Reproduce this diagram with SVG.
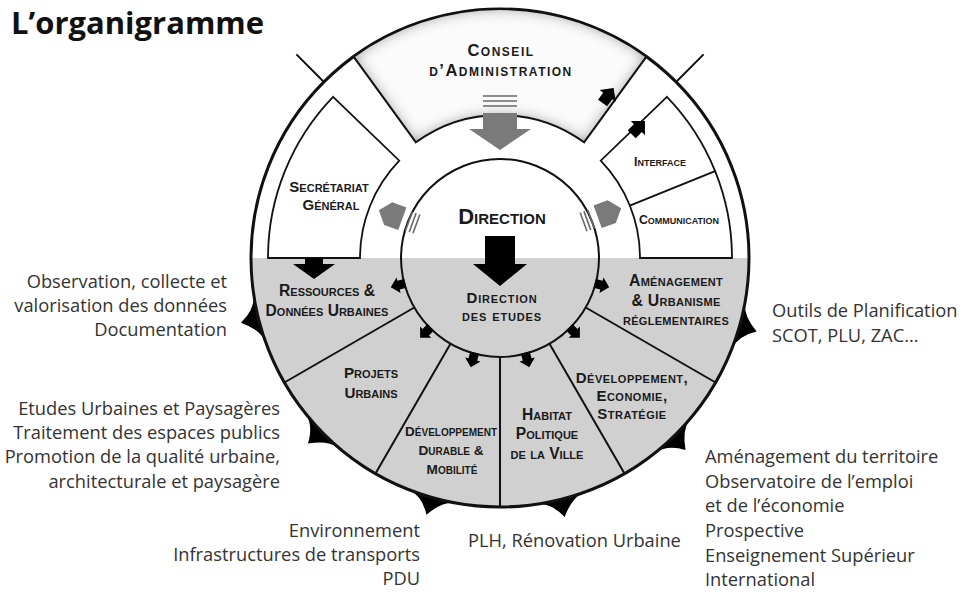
<svg xmlns="http://www.w3.org/2000/svg" width="963" height="592" viewBox="0 0 963 592">
<defs>
<style>
.title{font-family:"Open Sans","Liberation Sans",sans-serif;font-weight:700;font-size:31px;fill:#111}
.note{font-family:"Open Sans","Liberation Sans",sans-serif;font-size:18.3px;fill:#333}
.end{text-anchor:end}
.sc{font-family:"Liberation Sans",Arial,sans-serif;font-weight:700;font-variant:small-caps;fill:#1a1a1a;text-anchor:middle}
.div{fill:none;stroke:#111;stroke-width:2}
.panel{fill:#fff;stroke:#111;stroke-width:1.8}
.grey{fill:#7a7a7a}
.bars{stroke:#6a6a6a;stroke-width:1.6;fill:none}
</style>
<filter id="glow" x="-10%" y="-10%" width="120%" height="120%">
  <feFlood flood-color="#8c8c8c" result="f"/>
  <feComposite in="f" in2="SourceAlpha" operator="out" result="o"/>
  <feGaussianBlur in="o" stdDeviation="7" result="b"/>
  <feComposite in="b" in2="SourceAlpha" operator="in" result="i"/>
  <feMerge><feMergeNode in="SourceGraphic"/><feMergeNode in="i"/></feMerge>
</filter>
<!-- small block arrow, pointing +x -->
<path id="tip" d="M-6,-4.5 H1 V-8 L9,0 L1,8 V4.5 H-6 Z" fill="#000"/>
<!-- black tab on the outer rim, drawn at angle 0 -->
<path id="fin" d="M747.4,285.5 Q750.7,271.1 767,262.6 Q750.9,251.4 748.4,239 Z" fill="#000"/>
<!-- grey pentagon arrow with motion bars, pointing +x -->
<g id="pent">
  <polygon points="-11,-12 4,-12 14,0 4,12 -11,12" class="grey"/>
  <path d="M-18,-10 V10 M-22,-10 V10 M-26,-10 V10" class="bars"/>
</g>
</defs>

<rect width="963" height="592" fill="#fff"/>
<text class="title" x="11" y="34">L’organigramme</text>

<!-- rim tabs -->
<g id="tabs">
  <use href="#fin" transform="rotate(165 500 258)"/>
  <use href="#fin" transform="rotate(135 500 258)"/>
  <use href="#fin" transform="rotate(105 500 258)"/>
  <use href="#fin" transform="rotate(75 500 258)"/>
  <use href="#fin" transform="rotate(45 500 258)"/>
  <use href="#fin" transform="rotate(15 500 258)"/>
</g>

<!-- wheel -->
<g id="wheel">
  <path d="M251,258 A249,249 0 0 0 749,258 Z" fill="#d0d0d0"/>
  <circle cx="500" cy="258" r="249" fill="none" stroke="#111" stroke-width="3"/>
  <path d="M323.2,81.2 L296.4,54.4 M676.8,81.2 L703.6,54.4" class="div"/>
</g>

<g id="conseil">
  <path d="M353.6,56.6 A249,249 0 0 1 646.4,56.6 L584.1,142.3 A143,143 0 0 0 415.9,142.3 Z" fill="#fbfbfb" filter="url(#glow)"/>
  <path d="M353.6,56.6 A249,249 0 0 1 646.4,56.6 L584.1,142.3 A143,143 0 0 0 415.9,142.3 Z" class="div"/>
  <text class="sc" font-size="16.5" letter-spacing="1.5"><tspan x="501" y="56">Conseil</tspan><tspan x="501" y="76">d’Administration</tspan></text>
</g>

<g id="secretariat">
  <path d="M333.1,96.8 L399.3,160.7 A140,140 0 0 0 360,258 L268,258 A232,232 0 0 1 333.1,96.8 Z" class="panel"/>
  <text class="sc" font-size="15"><tspan x="329" y="192">Secrétariat</tspan><tspan x="331" y="210">Général</tspan></text>
</g>

<g id="interface">
  <path d="M666.9,96.8 L600.7,160.7 A140,140 0 0 1 640,258 L732,258 A232,232 0 0 0 666.9,96.8 Z" class="panel"/>
  <path d="M629.8,205.6 L715.1,171.1" class="div" stroke-width="1.6"/>
  <text class="sc" x="660" y="166" font-size="12.3">Interface</text>
</g>
<g id="communication">
  <text class="sc" x="679" y="224" font-size="12.3">Communication</text>
</g>

<g id="direction">
  <circle cx="500" cy="258" r="99" class="div"/>
  <text class="sc" x="502" y="224" font-size="22">Direction</text>
</g>

<!-- sector dividers -->
<g id="sectors">
  <path d="M414.3,307.5 L284.4,382.5 M450.5,343.7 L375.5,473.6 M500,357 L500,507 M549.5,343.7 L624.5,473.6 M585.7,307.5 L715.6,382.5" class="div"/>
</g>

<g id="direction-etudes">
  <text class="sc" font-size="15" letter-spacing="0.85"><tspan x="502" y="303">Direction</tspan><tspan x="502" y="321">des etudes</tspan></text>
</g>
<g id="ressources">
  <text class="sc" font-size="15.6"><tspan x="327" y="296">Ressources &amp;</tspan><tspan x="327" y="316">Données Urbaines</tspan></text>
</g>
<g id="projets">
  <text class="sc" font-size="15.2"><tspan x="371" y="378">Projets</tspan><tspan x="371" y="398">Urbains</tspan></text>
</g>
<g id="dev-durable">
  <text class="sc" font-size="13.6"><tspan x="451" y="436">Développement</tspan><tspan x="451" y="455">Durable &amp;</tspan><tspan x="452" y="474">Mobilité</tspan></text>
</g>
<g id="habitat">
  <text class="sc" font-size="15.6"><tspan x="547" y="420">Habitat</tspan><tspan x="547" y="439">Politique</tspan><tspan x="547" y="459">de la Ville</tspan></text>
</g>
<g id="dev-eco">
  <text class="sc" font-size="15" letter-spacing="0.5"><tspan x="632" y="383">Développement,</tspan><tspan x="632" y="401">Economie,</tspan><tspan x="632" y="419">Stratégie</tspan></text>
</g>
<g id="amenagement">
  <text class="sc" font-size="15.8" letter-spacing="0.3"><tspan x="676" y="286">Aménagement</tspan><tspan x="676" y="306">&amp; Urbanisme</tspan><tspan x="676" y="325" font-size="15.3">réglementaires</tspan></text>
</g>

<!-- connectors -->
<g id="connectors">
  <path d="M483,96 H517 M483,101 H517 M483,106 H517" class="bars" stroke-width="2.2"/>
  <path d="M483,113 H517 V129 H531 L500,150 L469,129 H483 Z" class="grey"/>
  <use href="#pent" transform="translate(392,215) rotate(-160)"/>
  <use href="#pent" transform="translate(608,213) rotate(-20)"/>
  <path d="M485,236 H515 V264 H527 L500,286 L473,264 H485 Z" fill="#000"/>
  <path d="M305,258 H323 V264 H335 L314,279 L293,264 H305 Z" fill="#000"/>
  <use href="#tip" transform="translate(607,97) rotate(-54) scale(1.25)"/>
  <use href="#tip" transform="translate(637,129) rotate(-45) scale(1.25)"/>
  <use href="#tip" transform="translate(399.5,284.9) rotate(165)"/>
  <use href="#tip" transform="translate(426.5,331.5) rotate(135)"/>
  <use href="#tip" transform="translate(473.1,358.5) rotate(105)"/>
  <use href="#tip" transform="translate(526.9,358.5) rotate(75)"/>
  <use href="#tip" transform="translate(573.5,331.5) rotate(45)"/>
  <use href="#tip" transform="translate(600.5,284.9) rotate(15)"/>
</g>

<!-- activity notes -->
<g id="notes">
  <text class="note end"><tspan x="227" y="288">Observation, collecte et</tspan><tspan x="227" y="312">valorisation des données</tspan><tspan x="227" y="336">Documentation</tspan></text>
  <text class="note end"><tspan x="280" y="415">Etudes Urbaines et Paysagères</tspan><tspan x="280" y="439">Traitement des espaces publics</tspan><tspan x="280" y="463">Promotion de la qualité urbaine,</tspan><tspan x="280" y="488">architecturale et paysagère</tspan></text>
  <text class="note end"><tspan x="420" y="537">Environnement</tspan><tspan x="420" y="561">Infrastructures de transports</tspan><tspan x="420" y="585">PDU</tspan></text>
  <text class="note" x="468" y="547">PLH, Rénovation Urbaine</text>
  <text class="note"><tspan x="772" y="317">Outils de Planification</tspan><tspan x="772" y="342">SCOT, PLU, ZAC…</tspan></text>
  <text class="note"><tspan x="705" y="463">Aménagement du territoire</tspan><tspan x="705" y="488">Observatoire de l’emploi</tspan><tspan x="705" y="512">et de l’économie</tspan><tspan x="705" y="537">Prospective</tspan><tspan x="705" y="562">Enseignement Supérieur</tspan><tspan x="705" y="586">International</tspan></text>
</g>
</svg>
